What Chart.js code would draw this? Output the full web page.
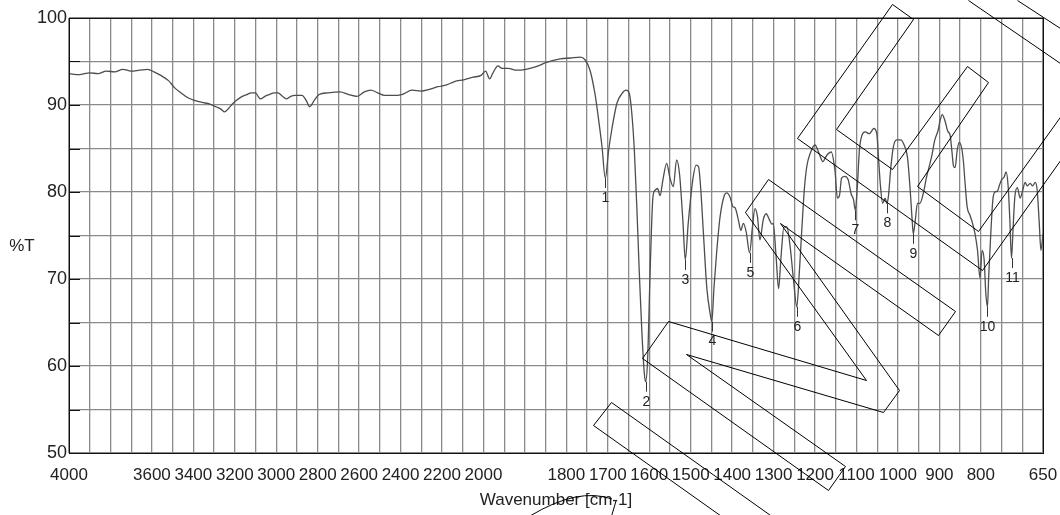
<!DOCTYPE html>
<html>
<head>
<meta charset="utf-8">
<script src="https://cdn.jsdelivr.net/npm/chart.js@4.4.0/dist/chart.umd.min.js"></script>
<style>
  html, body { margin: 0; padding: 0; background: #fff; }
</style>
</head>
<body>
<canvas id="espectro" width="1060" height="515"></canvas>
<script>
// wavenumber (cm-1) and %T
var numerosOnda = [
  4000, 3950, 3900, 3860, 3820, 3780, 3740, 3700, 3660, 3620, 3590, 3557, 3520, 3491, 3460, 3424, 3390, 3358, 3320, 3291,
  3265, 3250, 3230, 3208, 3170, 3142, 3120, 3100, 3085, 3075, 3055, 3034, 3010, 2992, 2970, 2951, 2930, 2909, 2876, 2855,
  2839, 2815, 2793, 2750, 2693, 2650, 2610, 2575, 2544, 2510, 2477, 2440, 2394, 2344, 2300, 2261, 2220, 2178, 2140, 2095,
  2050, 2012, 1995, 1985, 1978, 1965, 1955, 1940, 1920, 1898, 1873, 1848, 1815, 1790, 1767, 1755, 1743, 1731, 1723, 1714,
  1706, 1698, 1690, 1678, 1666, 1656, 1648, 1642, 1636, 1630, 1624, 1618, 1612, 1609, 1604, 1598, 1591, 1586, 1580, 1574,
  1567, 1558, 1550, 1542, 1534, 1527, 1519, 1513, 1506, 1495, 1487, 1481, 1476, 1469, 1461, 1453, 1449, 1444, 1437, 1429,
  1419, 1413, 1405, 1398, 1393, 1385, 1379, 1373, 1366, 1358, 1351, 1345, 1339, 1333, 1325, 1318, 1310, 1304, 1301, 1294,
  1288, 1282, 1275, 1268, 1260, 1252, 1244, 1238, 1232, 1226, 1220, 1212, 1200, 1190, 1181, 1172, 1161, 1152, 1146, 1141,
  1136, 1128, 1120, 1113, 1107, 1103, 1098, 1093, 1087, 1079, 1069, 1058, 1051, 1047, 1042, 1037, 1031, 1027, 1023, 1017,
  1011, 1003, 993, 985, 977, 971, 966, 963, 958, 953, 947, 939, 931, 919, 911, 903, 898, 893, 886, 880,
  874, 870, 866, 862, 857, 852, 846, 842, 838, 833, 826, 820, 814, 808, 802, 797, 792, 788, 784, 781,
  776, 771, 766, 760, 755, 750, 744, 739, 734, 730, 726, 722, 718, 712, 705, 699, 693, 688, 681, 675,
  669, 664, 659, 655, 650
];
var transmitancia = [
  93.6, 93.5, 93.7, 93.6, 93.9, 93.8, 94.1, 93.9, 94.0, 94.1, 93.8, 93.4, 92.8, 92.0, 91.4, 90.8, 90.5, 90.3, 90.1, 89.8,
  89.5, 89.2, 89.6, 90.2, 90.9, 91.2, 91.4, 91.4, 90.9, 90.7, 91.0, 91.2, 91.4, 91.4, 91.0, 90.7, 91.0, 91.1, 91.1, 90.5,
  89.8, 90.6, 91.2, 91.4, 91.5, 91.2, 91.0, 91.5, 91.7, 91.4, 91.1, 91.1, 91.2, 91.7, 91.6, 91.8, 92.1, 92.3, 92.7, 92.9,
  93.2, 93.4, 93.9, 93.0, 93.6, 94.5, 94.2, 94.2, 94.0, 94.1, 94.4, 94.9, 95.3, 95.4, 95.5, 95.2, 94.0, 91.3, 88.6, 85.2,
  81.6, 84.8, 87.3, 90.2, 91.3, 91.7, 91.3, 89.0, 84.8, 78.3, 70.7, 64.1, 59.2, 58.2, 60.7, 70.7, 79.5, 80.2, 80.4, 79.6,
  81.4, 83.3, 81.6, 80.6, 83.7, 82.1, 76.8, 72.2, 76.4, 81.4, 83.1, 82.9, 80.5, 75.0, 68.9, 66.0, 65.1, 68.9, 73.3, 77.2,
  79.6, 79.9, 79.4, 78.3, 78.2, 76.8, 75.6, 76.4, 75.4, 73.0, 76.0, 78.1, 77.2, 74.5, 76.8, 77.5, 76.8, 76.3, 76.4, 72.6,
  68.9, 72.6, 76.0, 76.0, 73.7, 69.9, 66.8, 70.7, 75.6, 80.2, 82.9, 84.4, 85.4, 84.4, 83.5, 84.2, 84.6, 82.5, 79.3, 79.6,
  81.6, 81.8, 81.4, 79.8, 79.1, 77.9, 80.6, 84.8, 86.5, 86.9, 86.7, 87.3, 86.7, 84.0, 80.6, 78.7, 79.3, 78.7, 79.5, 82.9,
  85.2, 86.0, 86.0, 85.4, 84.0, 80.6, 77.0, 75.2, 76.8, 78.7, 78.7, 79.8, 81.7, 84.0, 86.0, 87.1, 88.3, 88.9, 88.1, 87.0,
  86.5, 84.8, 83.0, 82.8, 84.8, 85.7, 85.0, 83.5, 81.0, 78.3, 77.3, 76.4, 75.2, 73.3, 70.1, 73.3, 72.2, 68.4, 66.8, 70.3,
  75.2, 79.1, 80.0, 80.1, 80.8, 81.4, 81.7, 82.3, 80.6, 76.8, 72.4, 76.0, 79.4, 80.5, 79.3, 80.2, 81.1, 80.7, 81.0, 80.7,
  81.1, 80.2, 76.4, 73.3, 75.2
];

// numbered peaks
var picosOnda = [1706, 1609, 1513, 1449, 1358, 1244, 1103, 1027, 963, 784, 726];
var picosT = [81.6, 58.2, 72.2, 65.1, 73.0, 66.8, 77.9, 78.7, 75.2, 66.8, 72.4];
var picosNombre = ['1', '2', '3', '4', '5', '6', '7', '8', '9', '10', '11'];

// labelled wavenumbers on the x axis
var etiquetasX = [4000, 3600, 3400, 3200, 3000, 2800, 2600, 2400, 2200, 2000,
  1800, 1700, 1600, 1500, 1400, 1300, 1200, 1100, 1000, 900, 800, 650];

// pen strokes scribbled over the scan (page pixels)
var trazos = [
  [[768, 179], [955, 311], [938, 335], [780, 223], [899, 390], [883, 412], [686, 354], [845, 466],
   [828, 490], [642, 358], [668, 321], [866, 380], [745, 212], [768, 179]],
  [[892, 4], [913, 19], [836, 129], [892, 169], [967, 66], [988, 82], [917, 186], [978, 231],
   [1100, 61], [1100, 104], [982, 270], [797, 138], [892, 4]],
  [[593, 425], [611, 402], [811, 544], [793, 567], [593, 425]],
  [[968, 0], [1060, 63]],
  [[1017, 0], [1060, 28]]
];

var fuente = "'Liberation Sans', Arial, sans-serif";

// the axis is stretched x2 below 2000 cm-1
function aEje(nu) {
  return nu >= 2000 ? 4000 - nu : 2000 + 2 * (2000 - nu);
}
function deEje(u) {
  return u <= 2000 ? 4000 - u : 2000 - (u - 2000) / 2;
}

var puntos = numerosOnda.map(function (nu, i) {
  return { x: aEje(nu), y: transmitancia[i] };
});

var marcoYPicos = {
  id: 'marcoYPicos',
  afterDraw: function (chart) {
    var ctx = chart.ctx;
    var area = chart.chartArea;
    var sx = chart.scales.x;
    var sy = chart.scales.y;
    ctx.save();
    ctx.strokeStyle = '#111';
    ctx.lineWidth = 1;
    ctx.strokeRect(Math.round(area.left) + 0.5, Math.round(area.top) + 0.5,
      Math.round(area.right - area.left), Math.round(area.bottom - area.top));

    // short inward ticks on the %T axis
    sy.ticks.forEach(function (t) {
      var y = Math.round(sy.getPixelForValue(t.value)) + 0.5;
      ctx.beginPath();
      ctx.moveTo(area.left, y);
      ctx.lineTo(area.left + 11, y);
      ctx.stroke();
    });

    ctx.fillStyle = '#222';
    ctx.font = '17px ' + fuente;
    ctx.textAlign = 'center';
    ctx.textBaseline = 'middle';
    ctx.fillText('%T', 22, (area.top + area.bottom) / 2 + 11);

    ctx.strokeStyle = '#333';
    ctx.font = '14px ' + fuente;
    picosOnda.forEach(function (nu, i) {
      var x = Math.round(sx.getPixelForValue(aEje(nu))) + 0.5;
      var y = sy.getPixelForValue(picosT[i]);
      ctx.beginPath();
      ctx.moveTo(x, y);
      ctx.lineTo(x, y + 10);
      ctx.stroke();
      ctx.fillText(picosNombre[i], x, y + 20);
    });

    // scribbles
    ctx.strokeStyle = '#000';
    ctx.lineWidth = 1;
    trazos.forEach(function (linea) {
      ctx.beginPath();
      linea.forEach(function (p, j) {
        if (j === 0) ctx.moveTo(p[0] + 0.5, p[1] + 0.5);
        else ctx.lineTo(p[0] + 0.5, p[1] + 0.5);
      });
      ctx.stroke();
    });
    ctx.beginPath();
    ctx.moveTo(530, 516);
    ctx.quadraticCurveTo(578, 487, 612, 499);
    ctx.moveTo(616, 501);
    ctx.lineTo(611, 518);
    ctx.stroke();
    ctx.restore();
  }
};

var ctxEspectro = document.getElementById('espectro').getContext('2d');

new Chart(ctxEspectro, {
  type: 'line',
  data: {
    datasets: [{
      data: puntos,
      borderColor: '#4d4d4d',
      borderWidth: 1.3,
      pointRadius: 0,
      cubicInterpolationMode: 'monotone',
      fill: false
    }]
  },
  options: {
    responsive: false,
    animation: false,
    layout: { padding: { top: 18, right: 17, left: 0, bottom: 0 } },
    plugins: {
      legend: { display: false },
      tooltip: { enabled: false }
    },
    scales: {
      x: {
        type: 'linear',
        min: 0,
        max: 4700,
        afterFit: function (scale) {
          scale.height = 62;
          scale.paddingLeft = 0;
          scale.paddingRight = 0;
        },
        grid: { color: '#8a8a8a', lineWidth: 1.3, drawTicks: false },
        border: { display: false },
        ticks: {
          stepSize: 100,
          autoSkip: false,
          maxRotation: 0,
          minRotation: 0,
          padding: 12,
          color: '#222',
          font: { family: fuente, size: 17 },
          callback: function (value) {
            var nu = Math.round(deEje(value));
            return etiquetasX.indexOf(nu) >= 0 ? String(nu) : '';
          }
        },
        title: {
          display: true,
          text: 'Wavenumber [cm-1]',
          color: '#222',
          font: { family: fuente, size: 17 },
          padding: { top: 0, bottom: 4 }
        }
      },
      y: {
        min: 50,
        max: 100,
        afterFit: function (scale) {
          scale.width = 69;
          scale.paddingTop = 0;
          scale.paddingBottom = 0;
        },
        grid: { color: '#8a8a8a', lineWidth: 1.3, drawTicks: false },
        border: { display: false },
        ticks: {
          stepSize: 5,
          padding: 2,
          color: '#222',
          font: { family: fuente, size: 18 },
          callback: function (value) {
            return value % 10 === 0 ? value : '';
          }
        }
      }
    }
  },
  plugins: [marcoYPicos]
});
</script>
</body>
</html>
